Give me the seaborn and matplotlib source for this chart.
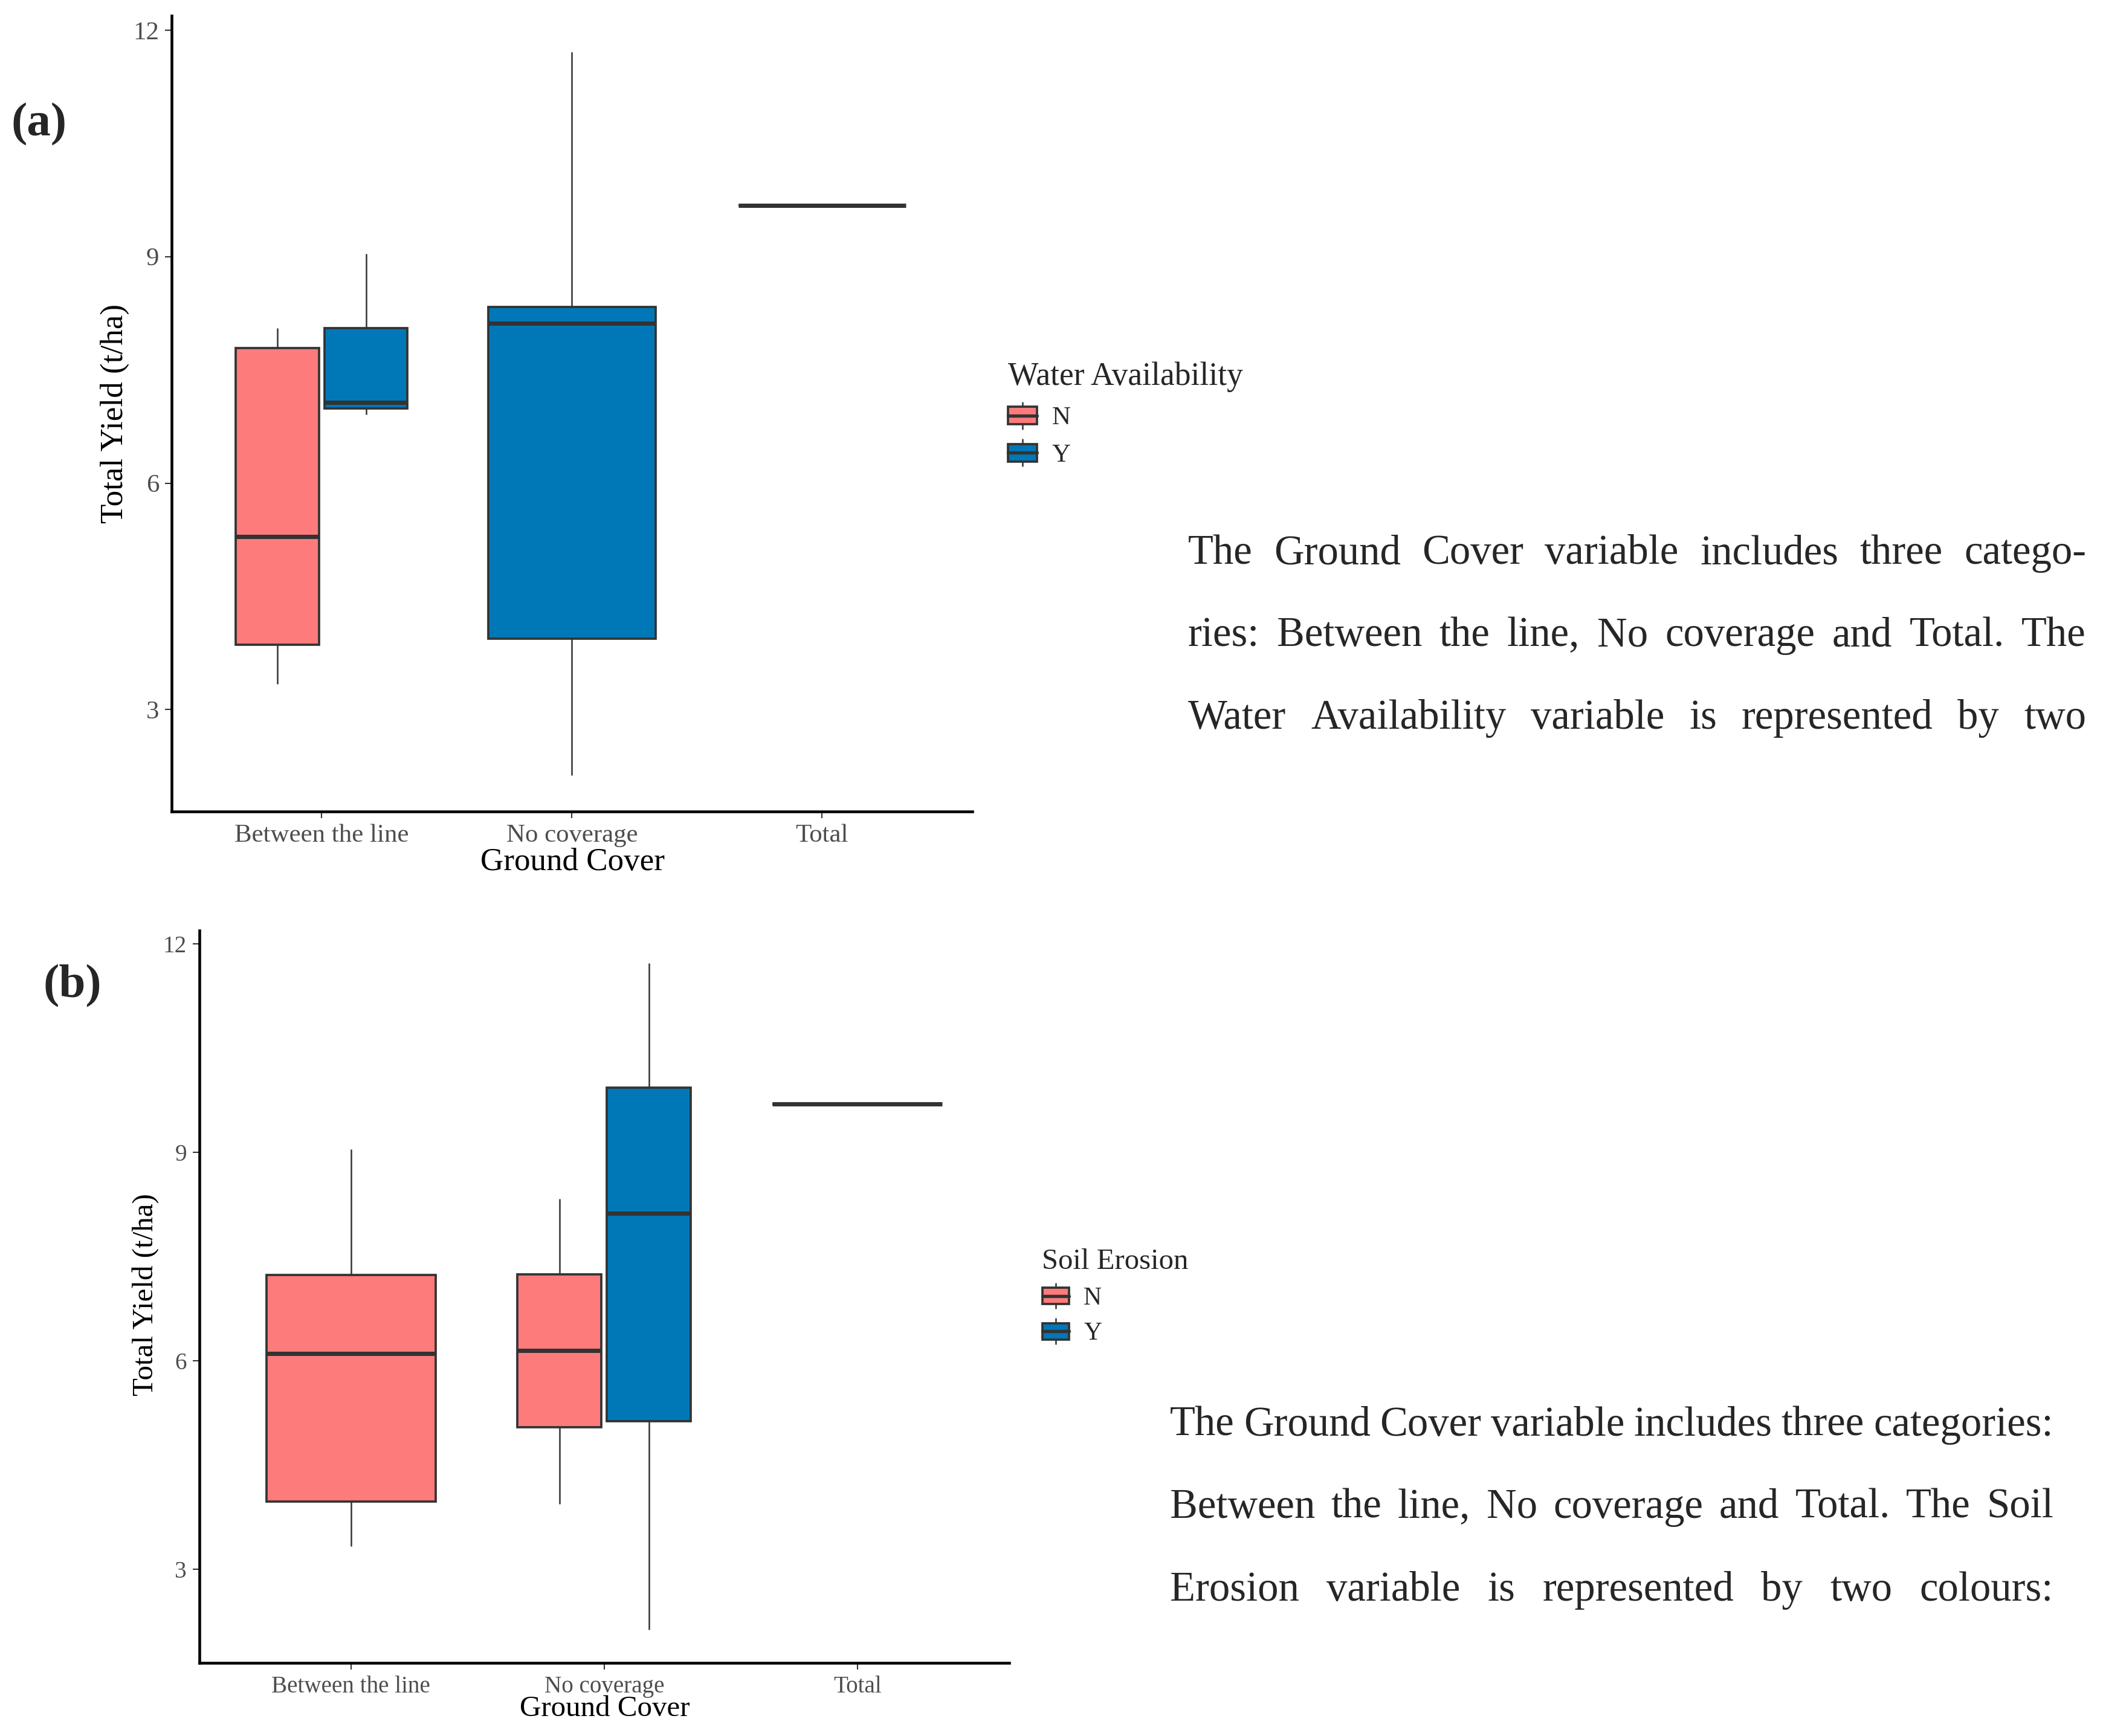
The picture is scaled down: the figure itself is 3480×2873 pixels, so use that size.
import matplotlib
matplotlib.use("Agg")
import matplotlib.pyplot as plt
import pandas as pd
import seaborn as sns
from matplotlib.patches import Rectangle
from matplotlib.lines import Line2D
from matplotlib.legend_handler import HandlerBase

# Categories and groups
categories = ["Between the line", "No coverage", "Total"]
groups = ["N", "Y"]
colors = {"N": "#FD7B7B", "Y": "#0078B8"}

# five-number summaries read off the boxes: [min, q1, median, q3, max]
# (a) Water Availability
a_between_N = [3.34, 3.86, 5.29, 7.79, 8.05]
a_between_Y = [6.91, 6.99, 7.07, 8.05, 9.04]
a_nocov_Y = [2.13, 3.94, 8.12, 8.33, 11.71]
a_total_Y = [9.68, 9.68, 9.68, 9.68, 9.68]

# (b) Soil Erosion
b_between_N = [3.33, 3.97, 6.10, 7.23, 9.04]
b_nocov_N = [3.94, 5.04, 6.15, 7.24, 8.33]
b_nocov_Y = [2.13, 5.13, 8.12, 9.93, 11.72]
b_total_N = [9.69, 9.69, 9.69, 9.69, 9.69]

text_a = ["The Ground Cover variable includes three catego-",
          "ries: Between the line, No coverage and Total. The",
          "Water Availability variable is represented by two"]
text_b = ["The Ground Cover variable includes three categories:",
          "Between the line, No coverage and Total. The Soil",
          "Erosion variable is represented by two colours:"]

W, H = 3480, 2873
SERIF = ["Liberation Serif", "DejaVu Serif"]
EDGE = "#333333"


def make_df(parts):
    rows = []
    for cover, grp, vals in parts:
        for v in vals:
            rows.append({"cover": cover, "grp": grp, "yield": v})
    return pd.DataFrame(rows)


class BoxKey(HandlerBase):
    # small boxplot glyph like the ggplot legend keys
    def create_artists(self, legend, orig_handle, xdescent, ydescent,
                       width, height, fontsize, trans):
        x0, y0 = -xdescent, -ydescent
        bh = height * 0.65
        by = y0 + (height - bh) / 2
        wh = Line2D([x0 + width / 2] * 2, [y0, y0 + height], color=EDGE,
                    lw=0.6, transform=trans)
        box = Rectangle((x0, by), width, bh, facecolor=orig_handle.get_facecolor(),
                        edgecolor=EDGE, lw=0.9, transform=trans)
        med = Line2D([x0, x0 + width], [y0 + height / 2] * 2, color=EDGE,
                     lw=1.3, transform=trans)
        return [wh, box, med]


def draw_panel(ax, dodged, single, tick_size, title_size):
    kw = dict(x="cover", y="yield", hue="grp", order=categories, hue_order=groups,
              palette=colors, saturation=1, linecolor=EDGE, whis=(0, 100),
              legend=False, ax=ax, showcaps=False,
              boxprops={"linewidth": 0.9},
              whiskerprops={"linewidth": 0.6},
              medianprops={"linewidth": 1.7, "color": EDGE})
    sns.boxplot(data=dodged, dodge=True, width=0.707, gap=0.06, **kw)
    sns.boxplot(data=single, dodge=False, width=0.67, **kw)

    ax.set_xlim(-0.6, 2.6)
    ax.set_ylim(1.65, 12.19)
    ax.set_yticks([3, 6, 9, 12])
    ax.set_yticklabels(["3", "6", "9", "12"])
    ax.set_xticks(range(len(categories)))
    ax.set_xticklabels(categories)
    for side in ["top", "right"]:
        ax.spines[side].set_visible(False)
    for side in ["left", "bottom"]:
        ax.spines[side].set_color("black")
        ax.spines[side].set_linewidth(1.1)
    ax.tick_params(length=2.75, width=0.5, color=EDGE, labelcolor="#4D4D4D",
                   labelsize=tick_size, pad=2.2)
    for lab in ax.get_xticklabels() + ax.get_yticklabels():
        lab.set_family(SERIF)
    ax.set_xlabel("Ground Cover", fontsize=title_size, family=SERIF, color="black")
    ax.set_ylabel("Total Yield (t/ha)", fontsize=title_size, family=SERIF, color="black")
    ax.xaxis.label.set_verticalalignment("center")
    ax.yaxis.label.set_verticalalignment("center")


def add_legend(fig, title, x, y, title_size, label_size, hl, hh, spacing):
    handles = [Rectangle((0, 0), 1, 1, facecolor=colors[g]) for g in groups]
    leg = fig.legend(handles, groups, title=title, loc="upper left",
                     bbox_to_anchor=(x / W, 1 - y / H), frameon=False,
                     borderpad=0.3, borderaxespad=0, alignment="left",
                     handlelength=hl, handleheight=hh, labelspacing=spacing,
                     handletextpad=0.58, handler_map={Rectangle: BoxKey()},
                     prop={"family": SERIF, "size": label_size},
                     title_fontproperties={"family": SERIF, "size": title_size})
    return leg


def justified(fig, lines, x0, x1, baselines, size):
    r = fig.canvas.get_renderer()
    for line, yb in zip(lines, baselines):
        words = line.split()
        arts = [fig.text(0, 1 - yb / H, w, fontsize=size, family=SERIF,
                         va="baseline", ha="left") for w in words]
        widths = [a.get_window_extent(r).width for a in arts]
        gap = (x1 - x0 - sum(widths)) / (len(words) - 1)
        x = x0
        for a, w in zip(arts, widths):
            a.set_x(x / W)
            x += w + gap


sns.set_style("ticks")
plt.rcParams["font.family"] = SERIF

fig = plt.figure(figsize=(W / 300, H / 300), dpi=300)
ax_a = fig.add_axes([0.0816, 0.5325, 0.3807, 0.4584])
ax_b = fig.add_axes([0.0947, 0.0421, 0.3852, 0.4219])

df_a_dodge = make_df([("Between the line", "N", a_between_N),
                      ("Between the line", "Y", a_between_Y)])
df_a_single = make_df([("No coverage", "Y", a_nocov_Y),
                       ("Total", "Y", a_total_Y)])
draw_panel(ax_a, df_a_dodge, df_a_single, 10.3, 12.75)
ax_a.xaxis.set_label_coords(0.501, -0.0638)
ax_a.yaxis.set_label_coords(-0.0709, 0.5004)

df_b_dodge = make_df([("No coverage", "N", b_nocov_N),
                      ("No coverage", "Y", b_nocov_Y)])
df_b_single = make_df([("Between the line", "N", b_between_N),
                       ("Total", "N", b_total_N)])
draw_panel(ax_b, df_b_dodge, df_b_single, 9.4, 11.75)
ax_b.xaxis.set_label_coords(0.5005, -0.0627)
ax_b.yaxis.set_label_coords(-0.0664, 0.5025)

add_legend(fig, "Water Availability", 1655, 586, 12.85, 10.3, 1.12, 1.2, 0.38)
add_legend(fig, "Soil Erosion", 1712, 2053, 11.7, 10.0, 1.07, 1.15, 0.35)

fig.text(65 / W, 1 - 206 / H, "(a)", fontsize=19, fontweight="bold",
         family=SERIF, ha="center", va="center")
fig.text(119.5 / W, 1 - 1632 / H, "(b)", fontsize=19, fontweight="bold",
         family=SERIF, ha="center", va="center")

justified(fig, text_a, 1966, 3452, [933, 1069, 1206], 16.5)
justified(fig, text_b, 1936, 3398, [2376, 2512, 2649], 16.5)

fig.savefig("out.png", dpi=300, facecolor="white")
